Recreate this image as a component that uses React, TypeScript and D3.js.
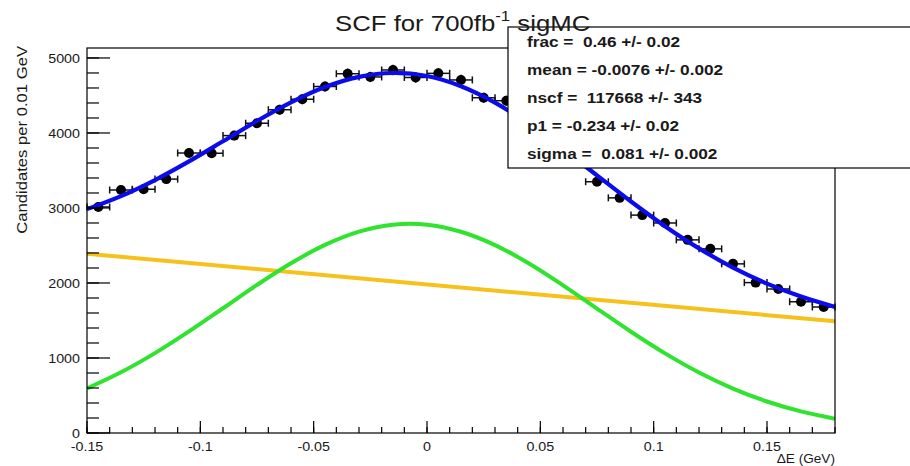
import React from "react";
import * as d3 from "d3";

// ---- data ----
const binCenters = [
  -0.145, -0.135, -0.125, -0.115, -0.105, -0.095, -0.085, -0.075, -0.065, -0.055, -0.045,
  -0.035, -0.025, -0.015, -0.005, 0.005, 0.015, 0.025, 0.035, 0.045, 0.055, 0.065,
  0.075, 0.085, 0.095, 0.105, 0.115, 0.125, 0.135, 0.145, 0.155, 0.165, 0.175,
];
const binCounts = [
  3013, 3240, 3250, 3385, 3733, 3730, 3965, 4130, 4310, 4450, 4620,
  4790, 4747, 4840, 4740, 4795, 4707, 4470, 4430, 4110, 3880, 3640,
  3350, 3135, 2905, 2800, 2575, 2455, 2255, 2005, 1920, 1750, 1680,
];
const curveX = [
  -0.15, -0.135, -0.12, -0.105, -0.09, -0.075, -0.06, -0.045, -0.03, -0.015, 0,
  0.015, 0.03, 0.045, 0.06, 0.075, 0.09, 0.105, 0.12, 0.135, 0.15, 0.165, 0.18,
];
const totalFit = [
  2985, 3159, 3373, 3621, 3889, 4160, 4408, 4612, 4748, 4800, 4759,
  4623, 4404, 4118, 3786, 3435, 3086, 2757, 2461, 2205, 1992, 1819, 1681,
];
const gaussFit = [
  595, 810, 1065, 1354, 1663, 1974, 2263, 2508, 2685, 2778, 2778,
  2683, 2505, 2260, 1969, 1659, 1350, 1062, 807, 592, 420, 288, 191,
];
const lineX = [-0.15, 0.18];
const lineFit = [2390, 1490];
const xTicks = [-0.15, -0.1, -0.05, 0, 0.05, 0.1, 0.15];
const xTickLabels = ["-0.15", "-0.1", "-0.05", "0", "0.05", "0.1", "0.15"];
const yTicks = [0, 1000, 2000, 3000, 4000, 5000];
const yTickLabels = ["0", "1000", "2000", "3000", "4000", "5000"];
const statsLines = [
  "frac =  0.46 +/- 0.02",
  "mean = -0.0076 +/- 0.002",
  "nscf =  117668 +/- 343",
  "p1 = -0.234 +/- 0.02",
  "sigma =  0.081 +/- 0.002",
];
const binWidth = 0.01;

const W = 910;
const H = 466;
const L = 87, R = 835, T = 48, B = 433;

export default function App() {
  const x = d3.scaleLinear().domain([-0.15, 0.18]).range([L, R]);
  const y = d3.scaleLinear().domain([0, 5133]).range([B, T]);

  const line = d3
    .line<[number, number]>()
    .x((d) => x(d[0]))
    .y((d) => y(d[1]))
    .curve(d3.curveCatmullRom.alpha(0.5));

  const totalPts = curveX.map((cx, i) => [cx, totalFit[i]] as [number, number]);
  const gaussPts = curveX.map((cx, i) => [cx, gaussFit[i]] as [number, number]);
  const linePts = lineX.map((cx, i) => [cx, lineFit[i]] as [number, number]);

  const xMinor = d3.range(-15, 19).map((i) => i / 100);
  const yMinor = d3.range(0, 5133, 200);

  const font = "'Liberation Sans', Arial, Helvetica, sans-serif";
  const textColor = "#1a1a1a";

  return (
    <svg
      width={W}
      height={H}
      style={{ position: "absolute", left: 0, top: 0, background: "#fff" }}
      fontFamily={font}
    >
      <rect x={0} y={0} width={W} height={H} fill="#fff" />
      <defs>
        <clipPath id="plotclip">
          <rect x={L} y={T} width={R - L} height={B - T} />
        </clipPath>
      </defs>

      {/* curves */}
      <g clipPath="url(#plotclip)" fill="none" strokeWidth={4} strokeLinejoin="round">
        <path d={line(linePts) || ""} stroke="#f7c11c" />
        <path d={line(gaussPts) || ""} stroke="#2fe32f" />
      </g>

      {/* data points */}
      <g stroke="#111" strokeWidth={1.5}>
        {binCenters.map((c, i) => {
          const v = binCounts[i];
          const e = Math.sqrt(v);
          const x0 = x(c - binWidth / 2);
          const x1 = x(c + binWidth / 2);
          const cy = y(v);
          return (
            <g key={i}>
              <line x1={x0} x2={x1} y1={cy} y2={cy} />
              <line x1={x0} x2={x0} y1={cy - 3.5} y2={cy + 3.5} />
              <line x1={x1} x2={x1} y1={cy - 3.5} y2={cy + 3.5} />
              <line x1={x(c)} x2={x(c)} y1={y(v - e)} y2={y(v + e)} />
              <circle cx={x(c)} cy={cy} r={5} fill="#000" stroke="none" />
            </g>
          );
        })}
      </g>

      <g clipPath="url(#plotclip)" fill="none" strokeWidth={4.2} strokeLinejoin="round">
        <path d={line(totalPts) || ""} stroke="#0b0bec" />
      </g>

      {/* frame */}
      <rect x={L} y={T} width={R - L} height={B - T} fill="none" stroke="#000" strokeWidth={1.2} />

      {/* ticks */}
      <g stroke="#000" strokeWidth={1.2}>
        {xMinor.map((v, i) => (
          <line key={"xm" + i} x1={x(v)} x2={x(v)} y1={B} y2={B - 6} />
        ))}
        {xTicks.map((v, i) => (
          <line key={"xM" + i} x1={x(v)} x2={x(v)} y1={B} y2={B - 12} />
        ))}
        {yMinor.map((v, i) => (
          <line key={"ym" + i} x1={L} x2={L + 12} y1={y(v)} y2={y(v)} />
        ))}
        {yTicks.map((v, i) => (
          <line key={"yM" + i} x1={L} x2={L + 23} y1={y(v)} y2={y(v)} />
        ))}
      </g>

      {/* tick labels */}
      <g fill={textColor} fontSize={13}>
        {xTicks.map((v, i) => (
          <text
            key={"xl" + i}
            transform={`translate(${x(v)}, ${B + 18}) scale(1.1, 1)`}
            textAnchor="middle"
          >
            {xTickLabels[i]}
          </text>
        ))}
        {yTicks.map((v, i) => (
          <text
            key={"yl" + i}
            transform={`translate(${L - 7}, ${y(v) + 5}) scale(1.1, 1)`}
            textAnchor="end"
          >
            {yTickLabels[i]}
          </text>
        ))}
      </g>

      {/* axis titles */}
      <text
        transform={`translate(${R}, 463) scale(1.05, 1)`}
        textAnchor="end"
        fontSize={13}
        fill={textColor}
      >
        ΔE (GeV)
      </text>
      <text
        transform={`translate(27, 46) rotate(-90) scale(1.19, 1)`}
        textAnchor="end"
        fontSize={14}
        fill={textColor}
      >
        Candidates per 0.01 GeV
      </text>

      {/* stats box */}
      <rect x={508} y={27} width={W - 508 + 5} height={168 - 27} fill="#fff" stroke="#000" strokeWidth={1.2} />
      <g fontSize={14} fontWeight="bold" fill={textColor}>
        {statsLines.map((s, i) => (
          <text
            key={"s" + i}
            transform={`translate(527, ${46.5 + i * 28}) scale(1.23, 1)`}
            xmlSpace="preserve"
            style={{ whiteSpace: "pre" }}
          >
            {s}
          </text>
        ))}
      </g>

      {/* title */}
      <text transform="translate(335, 31) scale(1.12, 1)" fontSize={23} fill={textColor}>
        SCF for 700fb
        <tspan dy={-10} fontSize={15}>-1</tspan>
        <tspan dy={10}> sigMC</tspan>
      </text>
    </svg>
  );
}
